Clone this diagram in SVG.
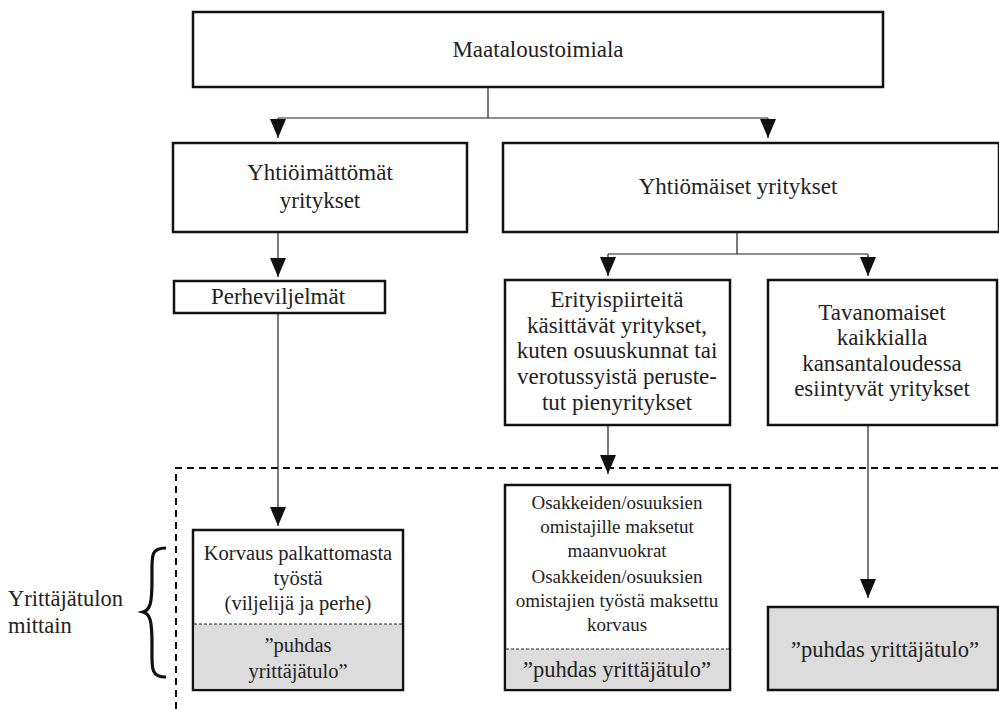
<svg xmlns="http://www.w3.org/2000/svg" width="999" height="709" viewBox="0 0 999 709" font-family="'Liberation Serif', 'DejaVu Serif', serif">
<defs>
<style>
.box{fill:#fff;stroke:#111;stroke-width:2.5}
.grey{fill:#dcdcdc;stroke:none}
.sep{stroke:#222;stroke-width:1;stroke-dasharray:3 2;fill:none}
.ln{stroke:#222;stroke-width:1.2;fill:none}
.dash{stroke:#111;stroke-width:2;stroke-dasharray:7 5;fill:none}
.t{font-family:'Liberation Serif', 'DejaVu Serif', serif;font-size:23px;fill:#222;text-anchor:middle}
.m{font-size:20.5px}
.g{font-size:22.5px}
.s{font-size:19px}
.l{text-anchor:start}
</style>
<marker id="ah" viewBox="0 0 19 16" refX="19" refY="8" markerWidth="19" markerHeight="16" markerUnits="userSpaceOnUse" orient="auto">
<path d="M0,0 L19,8 L0,16 Z" fill="#111"/>
</marker>
</defs>
<rect width="999" height="709" fill="#fff"/>

<g id="frame">
<path class="dash" d="M176,709 L176,468 L999,468"/>
</g>

<g id="connectors">
<path class="ln" d="M488,87 V118"/>
<path class="ln" d="M278,118 H768"/>
<path class="ln" d="M278,118 V138" marker-end="url(#ah)"/>
<path class="ln" d="M768,118 V138" marker-end="url(#ah)"/>
<path class="ln" d="M278,232 V277" marker-end="url(#ah)"/>
<path class="ln" d="M737,232 V254"/>
<path class="ln" d="M608,254 H868"/>
<path class="ln" d="M608,254 V276" marker-end="url(#ah)"/>
<path class="ln" d="M868,254 V276" marker-end="url(#ah)"/>
<path class="ln" d="M278,313 V526" marker-end="url(#ah)"/>
<path class="ln" d="M608,425 V474" marker-end="url(#ah)"/>
<path class="ln" d="M868,425 V598" marker-end="url(#ah)"/>
</g>

<g id="n-maatalous">
<rect class="box" x="193" y="12" width="690" height="75"/>
<text class="t" x="538" y="57">Maataloustoimiala</text>
</g>

<g id="n-yhtioimattomat">
<rect class="box" x="173" y="143" width="294" height="89"/>
<text class="t" x="320" y="180">Yhtiöimättömät</text>
<text class="t" x="320" y="208">yritykset</text>
</g>

<g id="n-yhtiomaiset">
<rect class="box" x="503" y="143" width="496" height="89"/>
<text class="t" x="738" y="194">Yhtiömäiset yritykset</text>
</g>

<g id="n-perhe">
<rect class="box" x="174" y="281" width="211" height="32"/>
<text class="t" x="278" y="304">Perheviljelmät</text>
</g>

<g id="n-erityis">
<rect class="box" x="505" y="280" width="225" height="145"/>
<text class="t" x="617" y="307">Erityispiirteitä</text>
<text class="t" x="617" y="333">käsittävät yritykset,</text>
<text class="t" x="617" y="358">kuten osuuskunnat tai</text>
<text class="t" x="617" y="384">verotussyistä peruste-</text>
<text class="t" x="617" y="410">tut pienyritykset</text>
</g>

<g id="n-tavan">
<rect class="box" x="768" y="280" width="229" height="145"/>
<text class="t" x="882" y="320">Tavanomaiset</text>
<text class="t" x="882" y="345">kaikkialla</text>
<text class="t" x="882" y="371">kansantaloudessa</text>
<text class="t" x="882" y="396">esiintyvät yritykset</text>
</g>

<g id="n-korvaus">
<rect class="box" x="193" y="530" width="210" height="160"/>
<rect class="grey" x="194.5" y="624" width="207" height="64.5"/>
<line class="sep" x1="194" y1="624" x2="402" y2="624"/>
<text class="t m" x="298" y="560">Korvaus palkattomasta</text>
<text class="t m" x="298" y="585">työstä</text>
<text class="t m" x="298" y="610">(viljelijä ja perhe)</text>
<text class="t m" x="298" y="652">”puhdas</text>
<text class="t m" x="298" y="678">yrittäjätulo”</text>
</g>

<g id="n-osakkeiden">
<rect class="box" x="505" y="485" width="225" height="205"/>
<rect class="grey" x="506.5" y="649" width="222" height="39.5"/>
<line class="sep" x1="506" y1="649" x2="729" y2="649"/>
<text class="t s" x="617" y="509">Osakkeiden/osuuksien</text>
<text class="t s" x="617" y="533">omistajille maksetut</text>
<text class="t s" x="617" y="557">maanvuokrat</text>
<text class="t s" x="617" y="583">Osakkeiden/osuuksien</text>
<text class="t s" x="617" y="607">omistajien työstä maksettu</text>
<text class="t s" x="617" y="631">korvaus</text>
<text class="t g" x="617" y="677">”puhdas yrittäjätulo”</text>
</g>

<g id="n-puhdas">
<rect class="box" x="768" y="607" width="230" height="83" style="fill:#dcdcdc"/>
<text class="t g" x="885" y="657">”puhdas yrittäjätulo”</text>
</g>

<g id="mittain">
<path d="M166,548 C150,548 152,556 152,580 C152,604 150,610 143,612 C150,614 152,620 152,644 C152,668 150,677 166,677" fill="none" stroke="#111" stroke-width="3.2"/>
<text class="t g l" x="8" y="606">Yrittäjätulon</text>
<text class="t g l" x="8" y="633">mittain</text>
</g>
</svg>
